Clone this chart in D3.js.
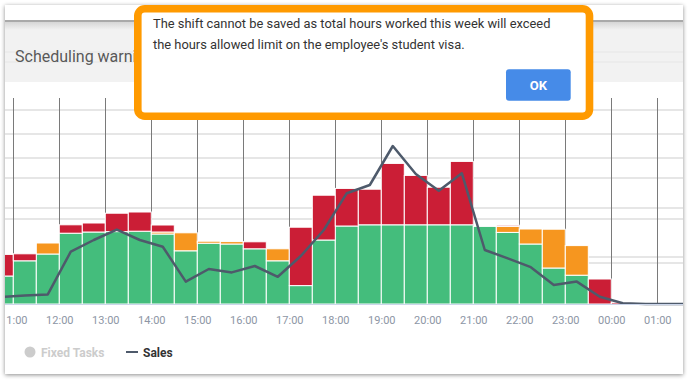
<!DOCTYPE html>
<html>
<head>
<meta charset="utf-8">
<script src="https://cdn.jsdelivr.net/npm/d3@7/dist/d3.min.js"></script>
<style>
  html, body { margin: 0; padding: 0; background: #fff; }
  svg { display: block; font-family: Roboto, "Open Sans", Arial, sans-serif; }
</style>
</head>
<body>
<div id="chart"></div>
<script>
// half-hour slots shown on the chart
const slots = ["10:30", "11:00", "11:30", "12:00", "12:30", "13:00", "13:30", "14:00", "14:30",
  "15:00", "15:30", "16:00", "16:30", "17:00", "17:30", "18:00", "18:30", "19:00", "19:30",
  "20:00", "20:30", "21:00", "21:30", "22:00", "22:30", "23:00", "23:30", "00:00", "00:30",
  "01:00", "01:30"];

// stacked bars: green / orange / red
const scheduledHours = [7, 10.8, 12.5, 17.7, 18, 18.1, 18.2, 17.5, 13.3, 15.2, 15, 13.8, 10.8,
  4.6, 16, 19.5, 19.8, 19.8, 19.8, 19.8, 19.8, 19.4, 17.9, 15, 9, 7.2, 0, 0, 0, 0, 0];
const openHours = [0, 0, 2.75, 0, 0, 0, 0, 0.5, 4.5, 0.5, 0.6, 0, 3, 0, 0, 0, 0, 0, 0, 0, 0,
  0, 1.5, 3.75, 9.7, 7.4, 0, 0, 0, 0, 0];
const overLimitHours = [5.4, 1.75, 0, 2.1, 2.25, 4.6, 4.8, 1.75, 0, 0, 0, 1.75, 0, 14.6, 11.2,
  9.4, 8.9, 15.35, 12.35, 9.4, 15.85, 0, 0.3, 0, 0, 0, 6.25, 0.4, 0, 0, 0];

// sales line
const sales = [1.75, 2.1, 2.4, 13.1, 16, 18.6, 16, 14.3, 5.6, 8.75, 7.9, 9.5, 6.8, 12, 18.5,
  27.7, 29.75, 39.5, 32.5, 28.3, 32.7, 13.5, 11.4, 9.2, 4.75, 5.6, 1.8, 0.2, 0, 0, 0];

const hourTicks = ["11:00", "12:00", "13:00", "14:00", "15:00", "16:00", "17:00", "18:00",
  "19:00", "20:00", "21:00", "22:00", "23:00", "00:00", "01:00"];
const gridValues = [48.5, 42.5, 36.5, 31.5, 24, 21.25, 11.75, 10.25];

const messageLines = ["The shift cannot be saved as total hours worked this week will exceed",
  "the hours allowed limit on the employee's student visa."];

const width = 692, height = 382;
const colors = { scheduled: "#44bd7c", open: "#f6961f", over: "#cb1e36" };

function toHours(s) {
  const [h, m] = s.split(":").map(Number);
  return (h < 10 ? h + 24 : h) + m / 60;
}

const table = slots.map((s, i) => ({
  t: toHours(s),
  scheduled: scheduledHours[i],
  open: openHours[i],
  over: overLimitHours[i],
  sales: sales[i]
}));

const svg = d3.select("#chart").append("svg")
  .attr("width", width)
  .attr("height", height);

const defs = svg.append("defs");
const shadow = defs.append("filter").attr("id", "cardShadow")
  .attr("x", -0.05).attr("y", -0.05).attr("width", 1.1).attr("height", 1.1);
shadow.append("feDropShadow")
  .attr("dx", 0).attr("dy", 1).attr("stdDeviation", 2)
  .attr("flood-color", "#000").attr("flood-opacity", 0.45);

defs.append("clipPath").attr("id", "plotClip")
  .append("rect").attr("x", 5).attr("y", 90).attr("width", 678).attr("height", 260);
defs.append("clipPath").attr("id", "axisClip")
  .append("rect").attr("x", 6).attr("y", 0).attr("width", 677).attr("height", 40);

const headGrad = defs.append("linearGradient").attr("id", "headGrad")
  .attr("x1", 0).attr("y1", 0).attr("x2", 0).attr("y2", 1);
headGrad.append("stop").attr("offset", 0).attr("stop-color", "#d6d6d6");
headGrad.append("stop").attr("offset", 1).attr("stop-color", "#f2f2f2");

// card
svg.append("rect")
  .attr("x", 5).attr("y", 5).attr("width", 678).attr("height", 369)
  .attr("fill", "#fff")
  .attr("filter", "url(#cardShadow)");

// header band behind the modal
svg.append("rect").attr("x", 5).attr("y", 20).attr("width", 678).attr("height", 2).attr("fill", "#a9a9a9");
svg.append("rect").attr("x", 5).attr("y", 22).attr("width", 678).attr("height", 8).attr("fill", "url(#headGrad)");
svg.append("rect").attr("x", 5).attr("y", 30).attr("width", 678).attr("height", 52).attr("fill", "#f2f2f2");
[52, 62].forEach(yy => {
  svg.append("line").attr("x1", 5).attr("x2", 683).attr("y1", yy).attr("y2", yy)
    .attr("stroke", "#e6e6e6").attr("stroke-width", 1);
});
svg.append("text")
  .attr("x", 15).attr("y", 62)
  .style("font-size", "16px")
  .style("fill", "#595959")
  .text("Scheduling warning");

// scales
const x = d3.scaleLinear().domain([11, 25]).range([13.3, 657.3]);
const y = d3.scaleLinear().domain([0, 51.5]).range([304, 98]);
const slotW = x(11.5) - x(11);

const plot = svg.append("g").attr("clip-path", "url(#plotClip)");

// grid lines
plot.selectAll("line.hgrid")
  .data(gridValues)
  .enter().append("line")
  .attr("x1", 5).attr("x2", 683)
  .attr("y1", d => y(d)).attr("y2", d => y(d))
  .attr("stroke", "#dedede")
  .attr("stroke-width", 1.5);

const tickHours = d3.range(11, 26);
plot.selectAll("line.vgrid")
  .data(tickHours)
  .enter().append("line")
  .attr("x1", d => Math.floor(x(d)) + 0.5).attr("x2", d => Math.floor(x(d)) + 0.5)
  .attr("y1", y(51.5)).attr("y2", y(0))
  .attr("stroke", "#7a7a7a")
  .attr("stroke-width", 1);

// stacked bars
const stacked = d3.stack().keys(["scheduled", "open", "over"])(table);
plot.selectAll("g.layer")
  .data(stacked)
  .enter().append("g")
  .attr("fill", d => colors[d.key])
  .selectAll("rect")
  .data(d => d.filter(p => p[1] - p[0] > 0))
  .enter().append("rect")
  .attr("x", d => x(d.data.t))
  .attr("y", d => y(d[1]))
  .attr("width", slotW)
  .attr("height", d => y(d[0]) - y(d[1]))
  .attr("stroke", "#fff")
  .attr("stroke-width", 1);

// axis line
svg.append("line")
  .attr("x1", 5).attr("x2", 683)
  .attr("y1", y(0) + 0.5).attr("y2", y(0) + 0.5)
  .attr("stroke", "#ccd6eb");

// sales line
const line = d3.line()
  .x(d => x(d.t + 0.25))
  .y(d => y(d.sales));
plot.append("path")
  .datum(table)
  .attr("d", line)
  .attr("fill", "none")
  .attr("stroke", "#4e5a6b")
  .attr("stroke-width", 2.5)
  .attr("stroke-linejoin", "round");

// x axis labels
const axis = d3.axisBottom(x)
  .tickValues(tickHours)
  .tickFormat((d, i) => hourTicks[i])
  .tickSize(0)
  .tickPadding(12);
const ax = svg.append("g")
  .attr("transform", `translate(0,${y(0)})`)
  .attr("clip-path", "url(#axisClip)")
  .call(axis);
ax.select(".domain").remove();
ax.selectAll("text")
  .style("font-family", "Roboto, sans-serif")
  .style("font-size", "11px")
  .style("fill", "#8d96a5");

// legend
const legend = svg.append("g").attr("transform", "translate(0,352)");
legend.append("circle").attr("cx", 30).attr("cy", 0).attr("r", 5.5).attr("fill", "#cccccc");
legend.append("text").attr("x", 41).attr("y", 4.5)
  .style("font-size", "12px").style("font-weight", "bold").style("fill", "#cccccc")
  .text("Fixed Tasks");
legend.append("line").attr("x1", 126).attr("x2", 138).attr("y1", 0).attr("y2", 0)
  .attr("stroke", "#4e5a6b").attr("stroke-width", 2);
legend.append("text").attr("x", 143).attr("y", 4.5)
  .style("font-size", "12px").style("font-weight", "bold").style("fill", "#333333")
  .text("Sales");

// modal dialog
const dialog = svg.append("g");
dialog.append("rect")
  .attr("x", 137.8).attr("y", 8.8)
  .attr("width", 451.7).attr("height", 107.4)
  .attr("rx", 7).attr("ry", 7)
  .attr("fill", "#fff")
  .attr("stroke", "#ff9a00")
  .attr("stroke-width", 7.6);

const msg = dialog.selectAll("text.msg")
  .data(messageLines)
  .enter().append("text")
  .attr("class", "msg")
  .attr("x", 153)
  .attr("y", (d, i) => 28 + i * 21)
  .style("font-size", "14px")
  .style("fill", "#333")
  .text(d => d);
// fit the first line to its width in the screenshot
const w0 = msg.node().getComputedTextLength();
msg.style("font-size", (14 * 398 / w0).toFixed(2) + "px");

dialog.append("rect")
  .attr("x", 506).attr("y", 69.3)
  .attr("width", 64.7).attr("height", 31.4)
  .attr("rx", 3)
  .attr("fill", "#468be8");
dialog.append("text")
  .attr("x", 538.3).attr("y", 89.5)
  .attr("text-anchor", "middle")
  .style("font-size", "13px")
  .style("font-weight", "bold")
  .style("fill", "#fff")
  .text("OK");
</script>
</body>
</html>
